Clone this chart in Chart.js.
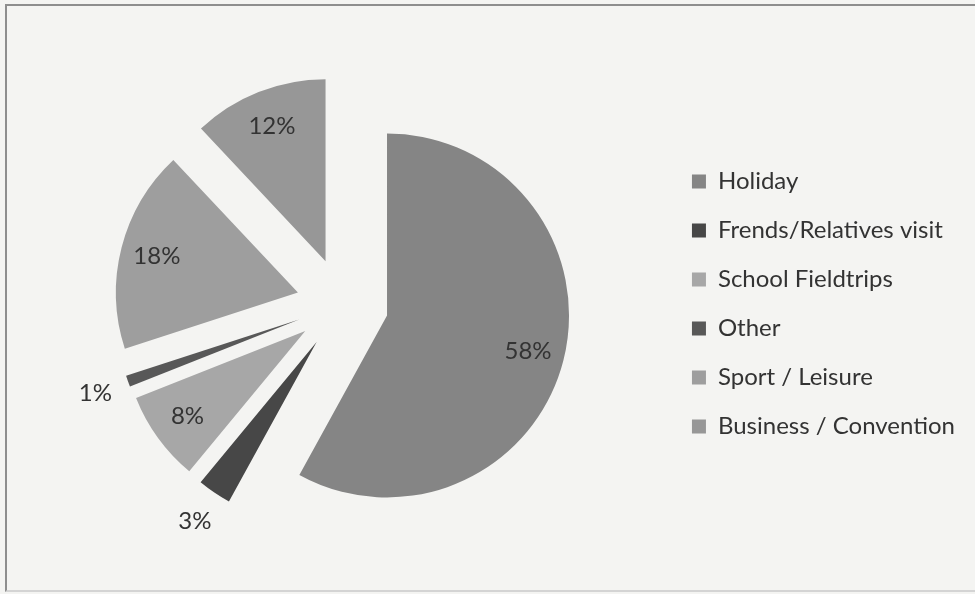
<!DOCTYPE html>
<html>
<head>
<meta charset="utf-8">
<title>Purpose of visit</title>
<script src="https://cdn.jsdelivr.net/npm/chart.js@4.4.1/dist/chart.umd.min.js"></script>
<style>
  html, body { margin: 0; padding: 0; background: #f4f4f2; overflow: hidden; }
  #frame {
    position: absolute; left: 5px; top: 4px; width: 990px; height: 584px;
    border: 2px solid #8e8e8e; border-right: none; border-bottom-color: #d4d4d4;
  }
  #wrap { position: absolute; left: 0; top: 0; width: 975px; height: 594px; }
</style>
</head>
<body>
<div id="frame"></div>
<div id="wrap"><canvas id="pie"></canvas></div>
<script>
const labels = ['Holiday', 'Frends/Relatives visit', 'School Fieldtrips', 'Other', 'Sport / Leisure', 'Business / Convention'];
const shares = [58, 3, 8, 1, 18, 12];

const sliceColors = ['#858585', '#474747', '#a7a7a7', '#585858', '#9e9e9e', '#979797'];
// pull-out distance of each slice, px
const explode = [46, 46, 46, 46, 46, 46];

const FONT = 'Lato';
const textColor = '#333333';

// move every arc outwards along its mid angle
const explodePlugin = {
    id: 'explode',
    afterDatasetsUpdate(chart) {
        chart.getDatasetMeta(0).data.forEach((arc, i) => {
            const mid = (arc.startAngle + arc.endAngle) / 2;
            arc.x += Math.cos(mid) * explode[i];
            arc.y += Math.sin(mid) * explode[i];
        });
    }
};

// percentage labels: inside the big slices, just outside the thin ones
const pctLabels = {
    id: 'pctLabels',
    afterDatasetsDraw(chart) {
        const ctx = chart.ctx;
        ctx.save();
        ctx.font = `24px ${FONT}`;
        ctx.fillStyle = textColor;
        ctx.textAlign = 'center';
        ctx.textBaseline = 'middle';
        chart.getDatasetMeta(0).data.forEach((arc, i) => {
            const mid = (arc.startAngle + arc.endAngle) / 2;
            const k = shares[i] < 5 ? 1.19 : 0.8;
            ctx.fillText(shares[i] + '%',
                arc.x + Math.cos(mid) * arc.outerRadius * k,
                arc.y + Math.sin(mid) * arc.outerRadius * k);
        });
        ctx.restore();
    }
};

new Chart(document.getElementById('pie'), {
    type: 'pie',
    data: {
        labels: labels,
        datasets: [{
            data: shares,
            backgroundColor: sliceColors,
            borderWidth: 0
        }]
    },
    options: {
        responsive: true,
        maintainAspectRatio: false,
        animation: false,
        events: [],
        radius: 182,
        layout: { padding: { left: 18, right: 10, top: 14, bottom: 0 } },
        plugins: {
            legend: {
                position: 'right',
                labels: {
                    color: textColor,
                    font: { family: FONT, size: 24 },
                    boxWidth: 14,
                    boxHeight: 14,
                    padding: 25
                }
            },
            tooltip: { enabled: false }
        }
    },
    plugins: [explodePlugin, pctLabels]
});
</script>
</body>
</html>
